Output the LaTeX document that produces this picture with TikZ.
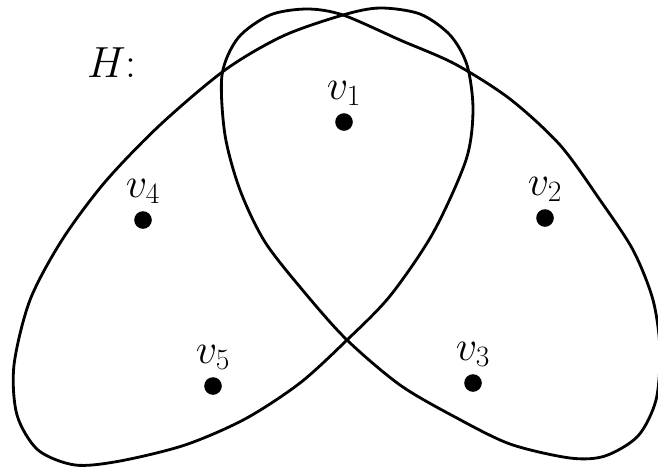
\RequirePackage{fix-cm}
\documentclass[tikz,border=0pt]{standalone}
\usepackage{amsmath}
\tikzset{
  vertex/.style={circle,fill=black,inner sep=0pt,minimum size=0.44cm},
  vlabel/.style={font=\fontsize{30}{36}\selectfont,inner sep=0pt,label distance=5pt},
  hyperedge/.style={line width=2pt,line join=round}
}

\begin{document}
\begin{tikzpicture}[x=0.025cm,y=-0.025cm]
  \useasboundingbox (0,0) rectangle (658,469);

  \node[font=\fontsize{31}{36}\selectfont] (hname) at (112,63) {$H$:};

  \node[vertex,label={[vlabel]above:$v_1$}] (v1) at (344,122) {};
  \node[vertex,label={[vlabel]above:$v_2$}] (v2) at (545,218) {};
  \node[vertex,label={[vlabel]above:$v_3$}] (v3) at (473,383) {};
  \node[vertex,label={[vlabel]above:$v_4$}] (v4) at (143,220) {};
  \node[vertex,label={[vlabel]above:$v_5$}] (v5) at (213,386) {};

  \draw[hyperedge] plot[smooth cycle] coordinates {
    (343,15) (380,8) (420,14) (450,35) (467,65) (473,110) (466,160)
    (433,233) (390,296) (347,340) (300,383) (245,419) (185,445) (120,461)
    (75,465) (38,450) (17,415) (14,365) (30,300) (62,240) (105,182)
    (160,125) (225,70) (283,36)};

  \draw[hyperedge] plot[smooth cycle] coordinates {
    (343,15) (400,40) (455,64) (510,99) (560,145) (600,200) (633,250)
    (653,300) (660,350) (656,400) (638,436) (605,456) (570,458) (510,444)
    (455,417) (400,385) (347,340) (305,293) (265,242) (240,190) (225,135)
    (222,75) (238,38) (270,15) (307,9)};
\end{tikzpicture}
\end{document}
